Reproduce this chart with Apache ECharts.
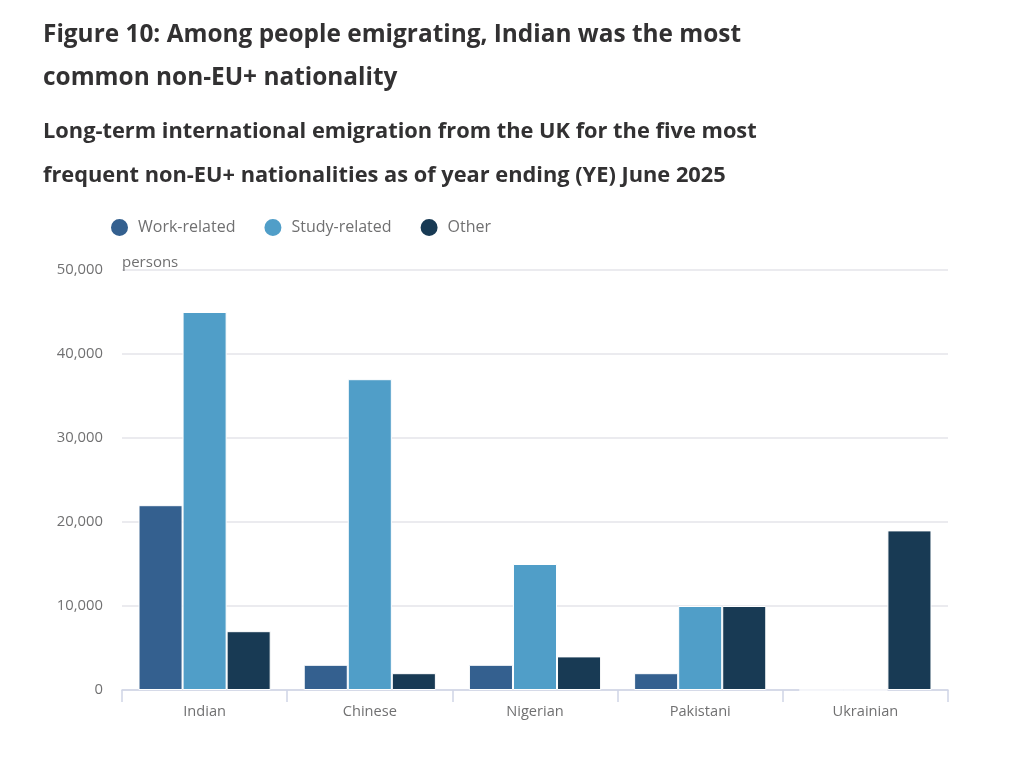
<!DOCTYPE html>
<html>
<head>
<meta charset="utf-8">
<script src="https://cdn.jsdelivr.net/npm/echarts@6/dist/echarts.min.js"></script>
<style>
	html, body { margin: 0; padding: 0; background: #fff; }
	#chart { width: 1024px; height: 767px; }
</style>
</head>
<body>
<div id="chart"></div>
<script>
	// nationalities (categories)
	var nationalities = ['Indian', 'Chinese', 'Nigerian', 'Pakistani', 'Ukrainian'];
	// emigration by reason, persons
	var workRelated = [22000, 3000, 3000, 2000, 0];
	var studyRelated = [45000, 37000, 15000, 10000, 0];
	var other = [7000, 2000, 4000, 10000, 19000];
	var yTicks = [0, 10000, 20000, 30000, 40000, 50000];

	var font = '"Open Sans", "Noto Sans", sans-serif';
	var grey = '#707071';

	function barSeries(name, values, color) {
		return {
			name: name,
			type: 'bar',
			data: values,
			barGap: '0%',
			barCategoryGap: '20%',
			itemStyle: { color: color, borderColor: '#fff', borderWidth: 1 },
			emphasis: { disabled: true }
		};
	}

	var myChart = echarts.init(document.getElementById('chart'));
	var option = {
		animation: false,
		textStyle: { fontFamily: font },
		title: [{
			text: 'Figure 10: Among people emigrating, Indian was the most\ncommon non-EU+ nationality',
			left: 38,
			top: 9,
			textStyle: { fontFamily: font, fontSize: 24.4, fontWeight: 'bold', color: '#323132', lineHeight: 43 }
		}, {
			text: 'Long-term international emigration from the UK for the five most\nfrequent non-EU+ nationalities as of year ending (YE) June 2025',
			left: 38,
			top: 105,
			textStyle: { fontFamily: font, fontSize: 21.8, fontWeight: 'bold', color: '#323132', lineHeight: 44 }
		}],
		legend: {
			left: 104,
			top: 212,
			icon: 'circle',
			itemWidth: 19,
			itemHeight: 19,
			itemGap: 27,
			textStyle: { fontFamily: font, fontSize: 16, color: grey, padding: [0, 0, 0, 4] },
			data: ['Work-related', 'Study-related', 'Other']
		},
		grid: { left: 122, right: 76, top: 270, bottom: 77 },
		xAxis: {
			type: 'category',
			data: nationalities,
			axisLine: { lineStyle: { color: '#cfd5e6', width: 1.5 } },
			axisTick: { show: true, length: 12, lineStyle: { color: '#cfd5e6', width: 1.5 } },
			axisLabel: { fontFamily: font, fontSize: 14.6, color: grey, margin: 14 }
		},
		yAxis: {
			type: 'value',
			min: yTicks[0],
			max: yTicks[yTicks.length - 1],
			interval: yTicks[1] - yTicks[0],
			name: 'persons',
			nameLocation: 'end',
			nameGap: 0,
			nameTextStyle: { fontFamily: font, fontSize: 15, color: grey, align: 'left' },
			axisLine: { show: false },
			axisTick: { show: false },
			axisLabel: {
				fontFamily: font, fontSize: 14.8, color: grey, margin: 19,
				formatter: function (v) { return v.toLocaleString('en-GB'); }
			},
			splitLine: { lineStyle: { color: '#e4e4ea', width: 1.5 } }
		},
		series: [
			barSeries('Work-related', workRelated, '#34608f'),
			barSeries('Study-related', studyRelated, '#509ec8'),
			barSeries('Other', other, '#183a54')
		]
	};
	myChart.setOption(option);
</script>
</body>
</html>
